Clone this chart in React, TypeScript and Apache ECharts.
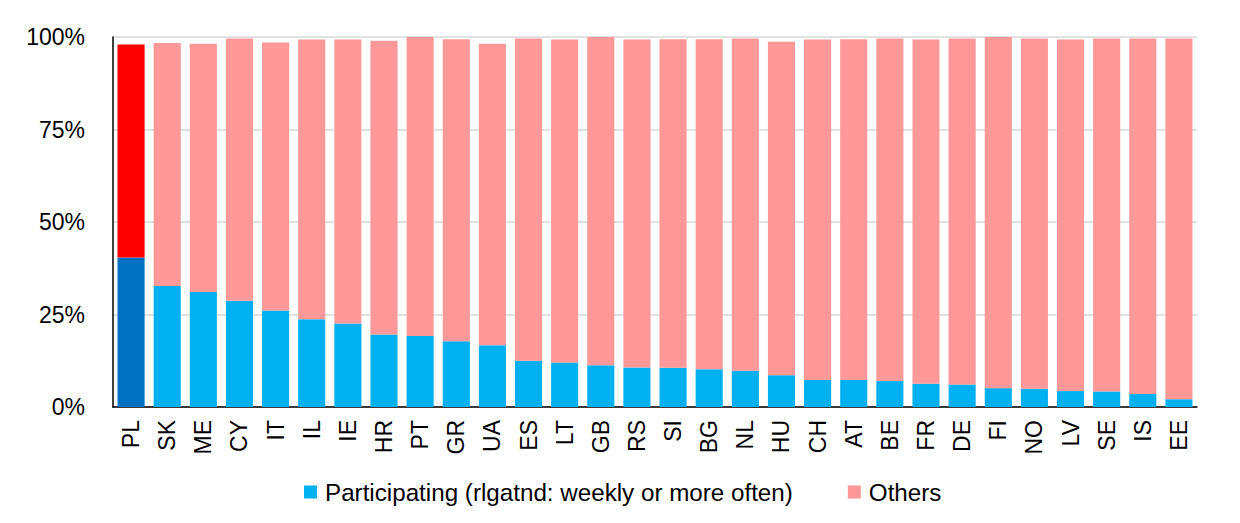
import React, { useEffect, useRef } from "react";
import * as echarts from "echarts";

const categories = ["PL","SK","ME","CY","IT","IL","IE","HR","PT","GR","UA","ES","LT","GB","RS","SI","BG","NL","HU","CH","AT","BE","FR","DE","FI","NO","LV","SE","IS","EE"];
const participating = [40.4,32.7,31.1,28.7,26.1,23.7,22.6,19.6,19.2,17.8,16.7,12.5,12.0,11.3,10.7,10.6,10.2,9.8,8.6,7.3,7.3,7.0,6.3,6.1,5.1,4.9,4.3,4.2,3.5,2.1];
const others = [57.6,65.7,67.1,70.9,72.4,75.6,76.7,79.4,80.8,81.6,81.5,87.1,87.3,88.7,88.6,88.8,89.2,89.8,90.1,92.0,92.1,92.6,93.0,93.5,94.9,94.7,95.0,95.4,96.1,97.5];
const yTicks = [0, 25, 50, 75, 100];
const highlighted = "PL";

const FONT = "'Liberation Sans', Arial, sans-serif";

export default function App() {
  const ref = useRef<HTMLDivElement>(null);
  useEffect(() => {
    document.body.style.margin = "0";
    if (!ref.current) return;
    const chart = echarts.init(ref.current, undefined, { renderer: "svg" });
    chart.setOption({
      animation: false,
      textStyle: { fontFamily: FONT },
      grid: { left: 113, right: 43, top: 37, bottom: 116, containLabel: false },
      legend: {
        left: 299,
        top: 475,
        itemWidth: 13,
        itemHeight: 13,
        itemGap: 55,
        icon: "rect",
        textStyle: { fontSize: 24.2, color: "#000", fontFamily: FONT, padding: [0, 0, 0, 3] },
        data: ["Participating (rlgatnd: weekly or more often)", "Others"],
      },
      xAxis: {
        type: "category",
        data: categories,
        axisLine: { lineStyle: { color: "#000", width: 1.5 } },
        axisTick: { show: false },
        axisLabel: { rotate: 90, fontSize: 23, color: "#000", margin: 13, interval: 0, fontFamily: FONT },
      },
      yAxis: {
        type: "value",
        min: yTicks[0],
        max: yTicks[yTicks.length - 1],
        interval: 25,
        axisLine: { show: true, lineStyle: { color: "#000", width: 1.5 } },
        axisTick: { show: false },
        axisLabel: { formatter: "{value}%", fontSize: 23, color: "#000", margin: 28, fontFamily: FONT },
        splitLine: { lineStyle: { color: "#d9d9d9", width: 1.5 } },
      },
      series: [
        {
          name: "Participating (rlgatnd: weekly or more often)",
          type: "bar",
          stack: "total",
          barCategoryGap: "25%",
          itemStyle: { color: "#00B0F0" },
          data: participating.map((v, i) =>
            categories[i] === highlighted ? { value: v, itemStyle: { color: "#0070C0" } } : v
          ),
        },
        {
          name: "Others",
          type: "bar",
          stack: "total",
          barCategoryGap: "25%",
          itemStyle: { color: "#FF9999" },
          data: others.map((v, i) =>
            categories[i] === highlighted ? { value: v, itemStyle: { color: "#FF0000" } } : v
          ),
        },
      ],
    });
    return () => chart.dispose();
  }, []);
  return <div ref={ref} style={{ width: 1240, height: 523 }} />;
}
